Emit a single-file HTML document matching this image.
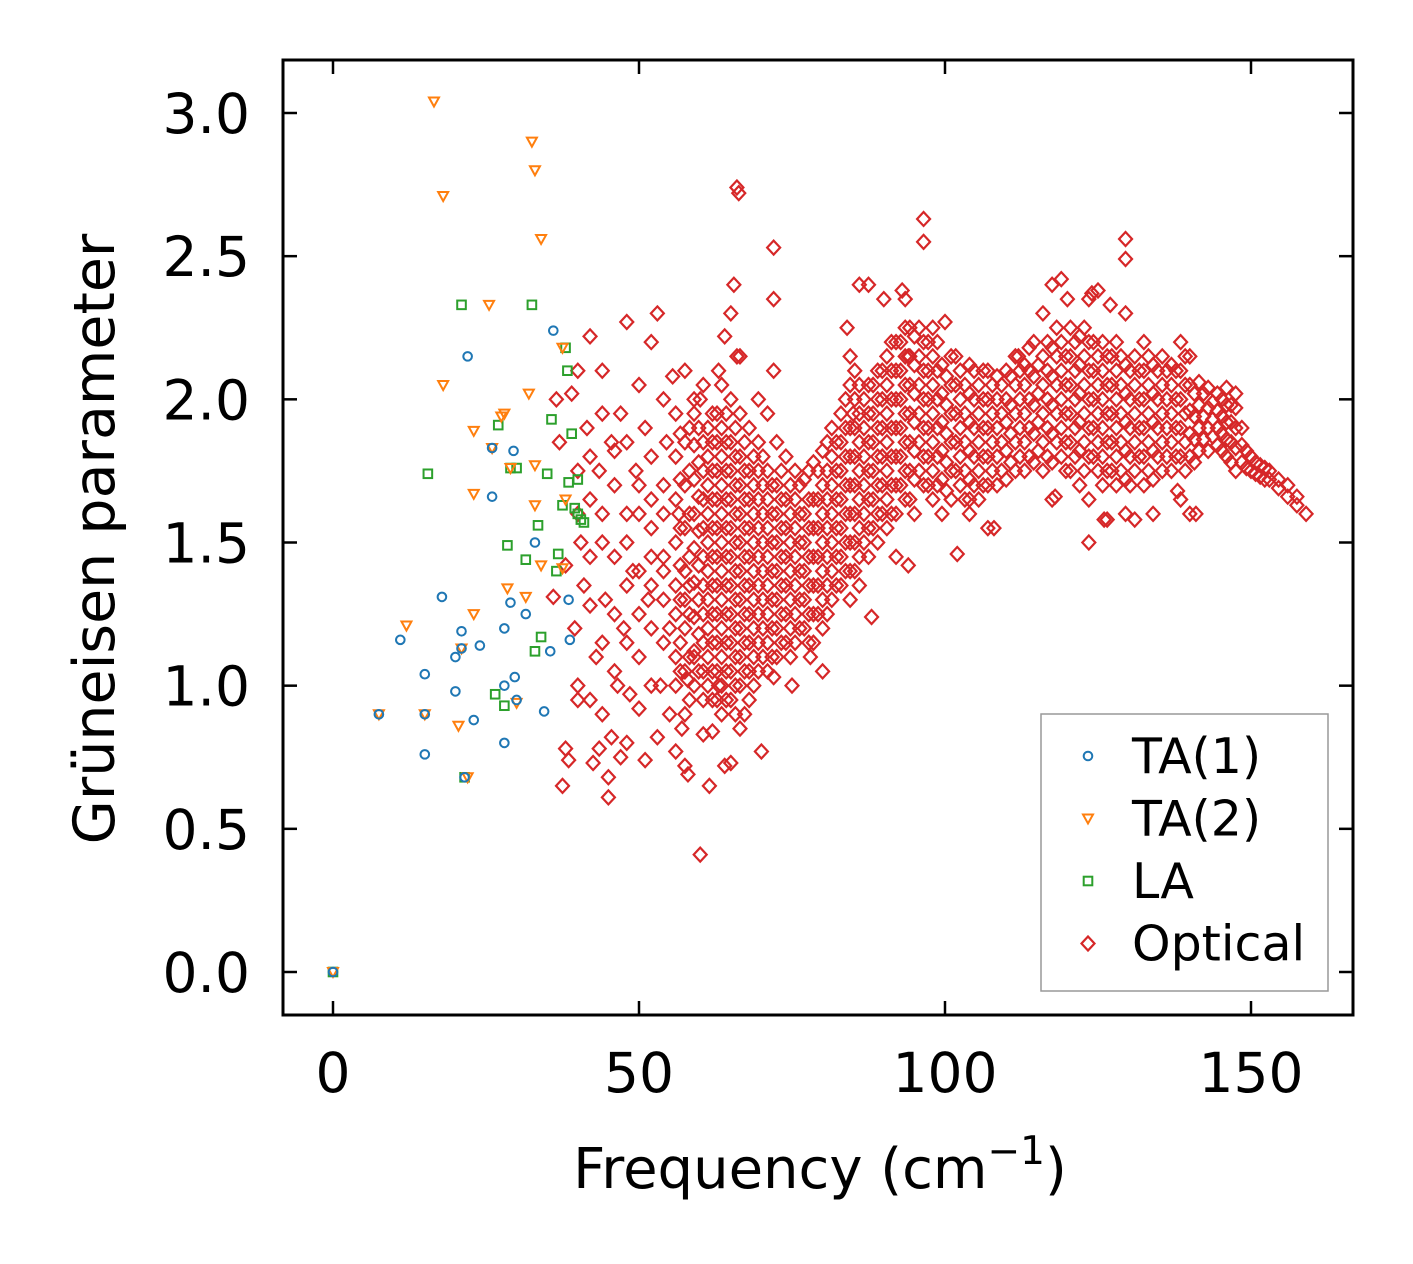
<!DOCTYPE html>
<html><head><meta charset="utf-8"><style>
html,body{margin:0;padding:0;background:#fff;}
svg{display:block;font-family:"DejaVu Sans","Liberation Sans",sans-serif;}
</style></head><body>
<svg id="chart" width="1413" height="1264" viewBox="0 0 1413 1264" xmlns="http://www.w3.org/2000/svg">
<rect x="0" y="0" width="1413" height="1264" fill="#fff"/>
<g id="marks"></g>
<rect x="283" y="60" width="1070" height="955" fill="none" stroke="#000" stroke-width="3"/>
<g id="axes"></g>
<text x="820" y="1188" font-size="56" text-anchor="middle">Frequency (cm<tspan font-size="39" dy="-24">−1</tspan><tspan dy="24">)</tspan></text>
<text transform="translate(114,539) rotate(-90)" font-size="57" text-anchor="middle">Grüneisen parameter</text>
<g>
<rect x="1041" y="714" width="287" height="277" fill="#fff" stroke="#999" stroke-width="1.5"/>
<g id="legend-items"></g>
</g>
</svg>
<script>
const xTicks=[0,50,100,150];
const yTicks=[0,0.5,1.0,1.5,2.0,2.5,3.0];
const yTickLabels=["0.0","0.5","1.0","1.5","2.0","2.5","3.0"];
const ta1Freq=[0,7.5,11,15,15,15,20,20,21,21,22,21.5,23,24,17.8,26,26,28,28,28,29,29.5,29.7,30,31.5,33,34.5,35.5,36,38.5,38.7];
const ta1Gamma=[0,0.9,1.16,1.04,0.9,0.76,1.1,0.98,1.19,1.13,2.15,0.68,0.88,1.14,1.31,1.66,1.83,1.2,0.8,1.0,1.29,1.82,1.03,0.95,1.25,1.5,0.91,1.12,2.24,1.3,1.16];
const ta2Freq=[0,7.5,12,15,16.5,18,18,20.5,21,22,23,23,23,25.5,26,27.5,28,28.5,29,30,31.5,32,32.5,33,33,33,34,34,37.5,37.5,38];
const ta2Gamma=[0,0.9,1.21,0.9,3.04,2.71,2.05,0.86,1.13,0.68,1.89,1.67,1.25,2.33,1.83,1.94,1.95,1.34,1.76,0.94,1.31,2.02,2.9,1.77,2.8,1.63,2.56,1.42,2.18,1.41,1.65];
const laFreq=[0,15.5,21,21.5,26.5,27,28,28.5,29,30,31.5,32.5,33,33.5,34,35,35.7,36.5,36.8,37.5,38,38.3,38.5,39,39.5,40,40,40.5,41];
const laGamma=[0,1.74,2.33,0.68,0.97,1.91,0.93,1.49,1.76,1.76,1.44,2.33,1.12,1.56,1.17,1.74,1.93,1.4,1.46,1.63,2.18,2.1,1.71,1.88,1.62,1.6,1.72,1.58,1.57];
const optFreq=[36,36.5,37,37.5,38,38.5,38,39,39.5,40,40.5,41,41.5,42,42,42.5,43,43.5,43.5,44,44,44.5,45,45,45.5,45.5,46,46.5,47,47,47.5,48,48,48.5,49,49.5,50,50,51,51,51.5,52,52,53,53,53.5,54,54.5,55,55,56,56.5,57,57.5,58,59,60,60.5,61.5,62,63,64,65,65.5,66,66.3,65,66,70,72,72,72,88,102,94,60,59,63,64,69.5,55.5,58,84,86,90,93,94,100,120,124,127,134,138,141,118,126,112,108,75,78,80,72,92,85,104];
const optGamma=[1.31,2.0,1.85,0.65,0.78,0.74,1.42,2.02,1.2,0.95,1.5,1.35,1.9,2.22,1.28,0.73,1.1,1.75,0.78,2.1,1.6,1.3,0.61,0.68,1.85,0.82,1.45,1.0,1.95,0.75,1.2,2.27,1.6,0.97,1.4,1.75,1.1,0.92,1.9,0.74,1.3,2.2,1.55,2.3,0.82,1.0,1.45,1.85,0.9,1.2,0.77,1.6,0.85,0.72,0.69,1.1,0.41,0.83,0.65,0.84,1.0,0.72,0.73,2.4,2.74,2.72,2.3,2.15,0.77,2.53,2.35,2.1,1.24,1.46,1.42,2.0,1.95,2.1,2.22,2.0,2.08,1.02,2.25,2.4,2.35,2.38,2.15,2.27,2.35,2.37,2.33,1.6,1.68,1.6,1.66,1.58,2.15,1.55,1.0,1.1,1.05,1.03,1.45,1.95,1.65];
const optColFreq=[40,42,44,46,48,50,52,54,56,57.5,59,60.5,62,63.5,65,66.5,68,69.5,71,72.5,74,75.5,77,78.5,80,81.5,83,84.5,86,87.5,89,90.5,92,93.5,95,96.5,98,99.5,101,102.5,104,105.5,107,108.5,110,111.5,113,114.5,116,117.5,119,120.5,122,123.5,125,126.5,128,129.5,131,132.5,134,135.5,137,138.5,140,141.5,143,144.5,146,147.5,148.5,150,151.5,153,154.5,156,157.5,159];
const optColGamma=[
[1.0,1.6,1.75,2.1],[0.95,1.45,1.65,1.8],[0.9,1.15,1.5,1.95],[1.05,1.25,1.7,1.82],[0.8,1.15,1.35,1.5,1.85],
[1.25,1.4,1.6,1.7,2.05],[1.0,1.2,1.35,1.45,1.65,1.8],[1.15,1.3,1.4,1.6,1.7,2.0],
[1.0,1.1,1.25,1.35,1.5,1.65,1.8,1.95],[0.9,1.05,1.2,1.3,1.4,1.55,1.7,1.85,2.1],
[1.0,1.12,1.24,1.36,1.48,1.6,1.72,1.84,2.0],[0.95,1.05,1.15,1.25,1.35,1.45,1.55,1.65,1.75,1.85,2.05],
[0.95,1.05,1.15,1.25,1.35,1.45,1.55,1.65,1.75,1.85,1.95],[0.9,1.0,1.1,1.2,1.3,1.4,1.5,1.6,1.7,1.8,1.9,2.05],
[0.95,1.05,1.15,1.25,1.35,1.45,1.55,1.65,1.75,1.85,2.0],[0.85,1.0,1.1,1.2,1.3,1.4,1.5,1.6,1.7,1.8,1.95,2.15],
[0.95,1.05,1.15,1.25,1.35,1.45,1.55,1.65,1.75,1.9],[1.05,1.15,1.25,1.35,1.45,1.55,1.65,1.75,1.85],
[1.05,1.15,1.25,1.35,1.45,1.55,1.65,1.75,1.95],[1.1,1.2,1.3,1.4,1.5,1.6,1.7,1.85],
[1.15,1.25,1.35,1.45,1.55,1.65,1.8],[1.15,1.25,1.35,1.45,1.55,1.65,1.75],[1.2,1.3,1.4,1.5,1.6,1.72],
[1.15,1.25,1.35,1.45,1.55,1.65,1.78],[1.2,1.3,1.4,1.5,1.6,1.7,1.82],[1.3,1.4,1.5,1.6,1.7,1.8,1.9],
[1.35,1.45,1.55,1.65,1.75,1.85,1.95],[1.3,1.4,1.5,1.6,1.7,1.8,1.9,2.05,2.15],
[1.35,1.45,1.55,1.65,1.75,1.85,1.95,2.05],[1.45,1.55,1.65,1.75,1.85,1.95,2.05,2.4],
[1.5,1.6,1.7,1.8,1.9,2.0,2.1],[1.55,1.65,1.75,1.85,1.95,2.05,2.15],[1.6,1.7,1.8,1.9,2.0,2.1,2.2],
[1.65,1.75,1.85,1.95,2.05,2.15,2.25,2.35],[1.6,1.72,1.82,1.92,2.02,2.12,2.22],
[1.7,1.8,1.9,2.0,2.1,2.2,2.55,2.63],[1.65,1.75,1.85,1.95,2.05,2.15,2.25],[1.6,1.72,1.82,1.92,2.02,2.12],
[1.65,1.75,1.85,1.95,2.05,2.15],[1.7,1.8,1.9,2.0,2.1],[1.6,1.72,1.82,1.92,2.02,2.12],
[1.65,1.75,1.85,1.95,2.05],[1.55,1.7,1.8,1.9,2.0,2.1],[1.7,1.8,1.9,2.0,2.08],[1.72,1.82,1.92,2.0,2.1],
[1.75,1.85,1.95,2.05,2.15],[1.75,1.85,1.95,2.05,2.12],[1.78,1.88,1.98,2.08,2.2],
[1.75,1.85,1.95,2.05,2.15,2.3],[1.65,1.78,1.88,1.98,2.08,2.18,2.4],[1.8,1.9,2.0,2.1,2.2,2.42],
[1.75,1.85,1.95,2.05,2.15,2.25],[1.7,1.82,1.92,2.02,2.12,2.22],[1.5,1.65,1.8,1.9,2.0,2.1,2.2,2.35],
[1.75,1.85,1.95,2.05,2.15,2.38],[1.58,1.75,1.85,1.95,2.05,2.15],[1.7,1.8,1.9,2.0,2.1,2.2],
[1.6,1.72,1.82,1.92,2.02,2.12,2.3,2.56,2.49],[1.58,1.75,1.85,1.95,2.05,2.15],[1.7,1.8,1.9,2.0,2.1,2.2],
[1.72,1.82,1.92,2.02,2.12],[1.75,1.85,1.95,2.05,2.15],[1.75,1.85,1.95,2.05,2.12],
[1.65,1.8,1.9,2.0,2.1,2.2],[1.6,1.8,1.88,1.96,2.05,2.15],[1.82,1.9,1.98,2.06],[1.82,1.9,1.97,2.04],
[1.84,1.9,1.96,2.02],[1.8,1.86,1.92,1.98,2.04],[1.75,1.83,1.9,1.97,2.02],[1.78,1.84,1.9],
[1.75,1.8],[1.73,1.77],[1.72,1.75],[1.69,1.72],[1.66,1.7],[1.63,1.66],[1.6]];
const optColFreq2=[56.75,58.25,59.75,61.25,62.75,64.25,65.75,67.25,68.75,70.25,71.75,73.25,74.75,76.25,77.75,79.25,80.75,82.25,83.75,85.25,86.75,88.25,89.75,91.25,92.75,94.25,95.75,97.25,98.75,100.25,101.75,103.25,104.75,106.25,107.75,109.25,110.75,112.25,113.75,115.25,116.75,118.25,119.75,121.25,122.75,124.25,125.75,127.25,128.75,130.25,131.75,133.25,134.75,136.25,137.75,139.25,140.75,142.25,143.75,145.25,146.75,149.25,150.75,152.25];
const optColGamma2=[
[1.05,1.15,1.3,1.42,1.55,1.72,1.88],[0.95,1.1,1.25,1.35,1.45,1.6,1.75,1.9],[1.05,1.18,1.3,1.42,1.54,1.66,1.78,1.9],
[1.0,1.1,1.2,1.3,1.4,1.5,1.6,1.7,1.8,1.9],[0.95,1.05,1.15,1.25,1.35,1.45,1.55,1.65,1.75,1.85,1.95],
[0.95,1.05,1.15,1.25,1.35,1.45,1.55,1.65,1.75,1.85,1.95],[0.9,1.0,1.1,1.2,1.3,1.4,1.5,1.6,1.7,1.8,1.9],
[0.9,1.05,1.15,1.25,1.35,1.45,1.55,1.65,1.75,1.85],[1.0,1.1,1.2,1.3,1.4,1.5,1.6,1.7,1.8],
[1.1,1.2,1.3,1.4,1.5,1.6,1.7,1.8],[1.1,1.2,1.3,1.4,1.5,1.6,1.7],[1.15,1.25,1.35,1.45,1.55,1.65,1.75],
[1.1,1.2,1.3,1.4,1.5,1.6,1.7],[1.2,1.3,1.4,1.5,1.6,1.7],[1.15,1.25,1.35,1.45,1.55,1.65,1.75],
[1.25,1.35,1.45,1.55,1.65,1.75],[1.25,1.35,1.45,1.55,1.65,1.75,1.85],[1.35,1.45,1.55,1.65,1.75,1.85],
[1.4,1.5,1.6,1.7,1.8,1.9,2.0],[1.4,1.5,1.6,1.7,1.8,1.9,2.0,2.1],[1.5,1.6,1.7,1.8,1.9,2.0],
[1.55,1.65,1.75,1.85,1.95,2.05],[1.6,1.7,1.8,1.9,2.0,2.1],[1.6,1.7,1.8,1.9,2.0,2.1,2.2],
[1.7,1.8,1.9,2.0,2.1,2.2],[1.65,1.75,1.85,1.95,2.05,2.15,2.25],[1.75,1.85,1.95,2.05,2.15,2.25],
[1.7,1.8,1.9,2.0,2.1,2.2],[1.7,1.8,1.9,2.0,2.1,2.2],[1.68,1.78,1.88,1.98,2.08],[1.75,1.85,1.95,2.05,2.15],
[1.65,1.75,1.85,1.95,2.05],[1.7,1.8,1.9,2.0,2.1],[1.7,1.8,1.9,2.0,2.1],[1.75,1.85,1.95,2.05],
[1.75,1.85,1.95,2.05],[1.78,1.88,1.98,2.08],[1.8,1.9,2.0,2.1],[1.8,1.9,2.0,2.1,2.18],[1.82,1.92,2.02,2.12],
[1.8,1.9,2.0,2.1,2.2],[1.85,1.95,2.05,2.15,2.25],[1.75,1.85,1.95,2.05,2.15],[1.8,1.9,2.0,2.1,2.2],
[1.75,1.85,1.95,2.05,2.15,2.25],[1.8,1.9,2.0,2.1,2.2],[1.7,1.8,1.9,2.0,2.1,2.2],[1.75,1.85,1.95,2.05,2.15],
[1.75,1.85,1.95,2.05,2.15],[1.7,1.8,1.9,2.0,2.1],[1.8,1.9,2.0,2.1],[1.75,1.85,1.95,2.05,2.15],
[1.8,1.9,2.0,2.1],[1.8,1.9,2.0,2.1],[1.8,1.9,2.0,2.1],[1.75,1.85,1.95,2.05,2.15],[1.78,1.86,1.94,2.02],
[1.86,1.94,2.02],[1.87,1.93,1.99],[1.82,1.88,1.94,2.0],[1.78,1.85,1.92,1.98],[1.76,1.82],[1.74,1.78],[1.72,1.76]];

const NS="http://www.w3.org/2000/svg";
function xs(v){return 333+v*(1251-333)/150;}
function ys(v){return 972-v*(972-113)/3;}
const marks=document.getElementById('marks');
const axes=document.getElementById('axes');
function mk(tag,attrs,parent){const e=document.createElementNS(NS,tag);for(const k in attrs)e.setAttribute(k,attrs[k]);parent.appendChild(e);return e;}
function marker(kind,cx,cy,parent){
  let e;
  if(kind==='circle'){e=mk('circle',{cx:cx,cy:cy,r:4.3,fill:'none',stroke:'#1f77b4','stroke-width':2},parent);}
  else if(kind==='tri'){e=mk('path',{d:`M${cx-5},${cy-4} L${cx+5},${cy-4} L${cx},${cy+5} Z`,fill:'none',stroke:'#ff7f0e','stroke-width':2},parent);}
  else if(kind==='sq'){e=mk('rect',{x:cx-4.3,y:cy-4.3,width:8.6,height:8.6,fill:'none',stroke:'#2ca02c','stroke-width':2},parent);}
  else {e=mk('path',{d:`M${cx},${cy-7} L${cx+6.5},${cy} L${cx},${cy+7} L${cx-6.5},${cy} Z`,fill:'none',stroke:'#d62728','stroke-width':2.2},parent);}
  return e;
}
for(let i=0;i<optFreq.length;i++){
  const e=marker('dia',xs(optFreq[i]),ys(optGamma[i]),marks);
  
  
}
for(let c=0;c<optColFreq.length;c++){
  const col=optColGamma[c];
  for(let j=0;j<col.length;j++){
    const e=marker('dia',xs(optColFreq[c]),ys(col[j]),marks);
    
    
  }
}
for(let c=0;c<optColFreq2.length;c++){
  const col=optColGamma2[c];
  for(let j=0;j<col.length;j++){
    const e=marker('dia',xs(optColFreq2[c]),ys(col[j]),marks);
    
    
  }
}
for(let i=0;i<laFreq.length;i++){
  const e=marker('sq',xs(laFreq[i]),ys(laGamma[i]),marks);
  
  
}
for(let i=0;i<ta2Freq.length;i++){
  const e=marker('tri',xs(ta2Freq[i]),ys(ta2Gamma[i]),marks);
  
  
}
for(let i=0;i<ta1Freq.length;i++){
  const e=marker('circle',xs(ta1Freq[i]),ys(ta1Gamma[i]),marks);
  
  
}
for(const t of xTicks){
  const x=xs(t);
  const a=mk('line',{x1:x,y1:1015,x2:x,y2:1001,stroke:'#000','stroke-width':2.5},axes);
  
  
  const b=mk('line',{x1:x,y1:60,x2:x,y2:74,stroke:'#000','stroke-width':2.5},axes);
  
  
  const l=mk('text',{x:x,y:1092,'font-size':55,'text-anchor':'middle'},axes);
  l.textContent=String(t);
  
  
}
for(let i=0;i<yTicks.length;i++){
  const y=ys(yTicks[i]);
  const a=mk('line',{x1:283,y1:y,x2:297,y2:y,stroke:'#000','stroke-width':2.5},axes);
  
  
  const b=mk('line',{x1:1353,y1:y,x2:1339,y2:y,stroke:'#000','stroke-width':2.5},axes);
  
  
  const l=mk('text',{x:250,y:y+20,'font-size':55,'text-anchor':'end'},axes);
  l.textContent=yTickLabels[i];
  
  
}
const legendLabels=["TA(1)","TA(2)","LA","Optical"];
const legendKinds=["circle","tri","sq","dia"];
const li=document.getElementById('legend-items');
for(let i=0;i<4;i++){
  const y=756+i*62.5;
  const g=mk('g',{},li);
  
  
  marker(legendKinds[i],1088,y,g);
  const t=mk('text',{x:1132,y:y+17,'font-size':49},g);
  t.textContent=legendLabels[i];
}
</script>
</body></html>
